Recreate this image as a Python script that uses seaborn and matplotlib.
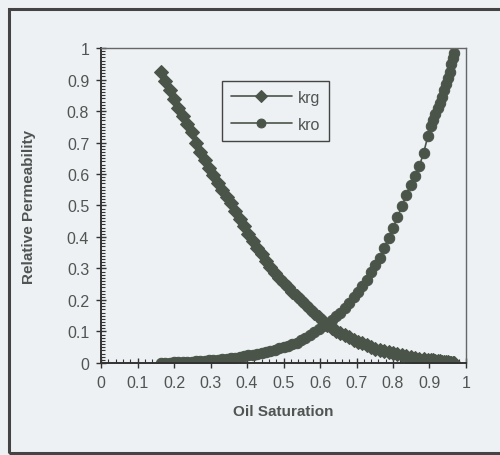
import numpy as np
import pandas as pd
import matplotlib
matplotlib.use("Agg")
import matplotlib.pyplot as plt
import seaborn as sns
from matplotlib.patches import Rectangle
from matplotlib.ticker import MultipleLocator, FuncFormatter

# oil saturation (shared by both curves)
so = [0.164, 0.176, 0.188, 0.200, 0.212, 0.224, 0.236, 0.248, 0.260, 0.272,
      0.284, 0.296, 0.308, 0.320, 0.332, 0.344, 0.356, 0.368, 0.380, 0.392,
      0.404, 0.416, 0.428, 0.440, 0.452, 0.464, 0.476, 0.488, 0.500, 0.512,
      0.524, 0.536, 0.548, 0.560, 0.572, 0.584, 0.596, 0.608, 0.620, 0.632,
      0.644, 0.656, 0.668, 0.680, 0.692, 0.704, 0.716, 0.728, 0.740, 0.752,
      0.764, 0.776, 0.788, 0.800, 0.812, 0.824, 0.836, 0.848, 0.860, 0.872,
      0.884, 0.896, 0.904, 0.910, 0.916, 0.922, 0.928, 0.934, 0.940, 0.945,
      0.950, 0.955, 0.960, 0.964, 0.968]

krg = [0.923, 0.895, 0.866, 0.838, 0.811, 0.784, 0.758, 0.733, 0.700, 0.670,
       0.645, 0.620, 0.597, 0.573, 0.550, 0.528, 0.508, 0.483, 0.458, 0.435,
       0.410, 0.387, 0.366, 0.345, 0.324, 0.305, 0.287, 0.270, 0.254, 0.240,
       0.226, 0.213, 0.200, 0.186, 0.172, 0.158, 0.145, 0.132, 0.120, 0.110,
       0.102, 0.096, 0.089, 0.081, 0.074, 0.068, 0.062, 0.056, 0.050, 0.045,
       0.041, 0.037, 0.034, 0.031, 0.028, 0.025, 0.022, 0.019, 0.017, 0.014,
       0.012, 0.010, 0.009, 0.008, 0.007, 0.006, 0.005, 0.004, 0.003, 0.002,
       0.002, 0.001, 0.001, 0.000, 0.000]

kro = [0.001, 0.001, 0.001, 0.002, 0.002, 0.003, 0.003, 0.004, 0.005, 0.006,
       0.007, 0.008, 0.009, 0.011, 0.012, 0.014, 0.015, 0.017, 0.019, 0.021,
       0.024, 0.026, 0.029, 0.032, 0.035, 0.038, 0.042, 0.046, 0.050, 0.054,
       0.059, 0.065, 0.072, 0.080, 0.089, 0.098, 0.108, 0.118, 0.128, 0.137,
       0.148, 0.160, 0.175, 0.191, 0.208, 0.226, 0.245, 0.265, 0.288, 0.310,
       0.333, 0.365, 0.397, 0.430, 0.462, 0.497, 0.533, 0.566, 0.595, 0.624,
       0.668, 0.722, 0.752, 0.770, 0.790, 0.808, 0.826, 0.845, 0.866, 0.885,
       0.905, 0.925, 0.950, 0.968, 0.985]

curve_names = ["krg", "kro"]

df = pd.concat([
    pd.DataFrame({"So": so, "kr": krg, "curve": curve_names[0]}),
    pd.DataFrame({"So": so, "kr": kro, "curve": curve_names[1]}),
], ignore_index=True)

bg = "#edf1f3"
ink = "#4a5449"
txt = "#505553"

sns.set_style("ticks")
plt.rcParams["font.family"] = ["Liberation Sans", "DejaVu Sans"]

fig = plt.figure(figsize=(5, 4.56), dpi=100, facecolor=bg)
ax = fig.add_axes([0.202, 0.2018, 0.73, 0.6907])
ax.set_facecolor(bg)

sns.lineplot(data=df, x="So", y="kr", hue="curve", style="curve",
             markers={"krg": "D", "kro": "o"}, dashes=False,
             palette=[ink, ink], sort=False, ax=ax,
             markersize=7.5, markeredgecolor=ink, linewidth=1.2)

ax.set_xlim(0, 1)
ax.set_ylim(0, 1)
ax.xaxis.set_major_locator(MultipleLocator(0.1))
ax.yaxis.set_major_locator(MultipleLocator(0.1))
ax.xaxis.set_minor_locator(MultipleLocator(0.02))
ax.yaxis.set_minor_locator(MultipleLocator(0.01))
fmt = FuncFormatter(lambda v, p: f"{v:g}")
ax.xaxis.set_major_formatter(fmt)
ax.yaxis.set_major_formatter(fmt)

ax.tick_params(which="major", direction="inout", length=7, width=1,
               color="#333333", labelsize=11.5, labelcolor=txt, pad=5)
ax.tick_params(which="minor", direction="in", length=3, width=0.8,
               color="#333333")

for s in ["left", "bottom"]:
    ax.spines[s].set_color("#333333")
    ax.spines[s].set_linewidth(1.4)
for s in ["top", "right"]:
    ax.spines[s].set_visible(True)
    ax.spines[s].set_color("#666666")
    ax.spines[s].set_linewidth(1.0)

ax.set_xlabel("Oil Saturation", fontsize=11, fontweight="bold",
              color=txt, labelpad=10)
ax.set_ylabel("Relative Permeability", fontsize=11, fontweight="bold",
              color=txt, labelpad=22)

leg = ax.legend(loc="upper left", bbox_to_anchor=(0.31, 0.92),
                frameon=True, fancybox=False, framealpha=1,
                fontsize=11.5, handlelength=3.8, borderpad=0.55,
                labelspacing=0.75, handletextpad=0.4, markerscale=0.85)
leg.get_frame().set_edgecolor("#444444")
leg.get_frame().set_facecolor(bg)
leg.get_frame().set_linewidth(1.0)
for t in leg.get_texts():
    t.set_color(txt)

border = Rectangle((0.017, 0.005), 1.0, 0.972, transform=fig.transFigure,
                   fill=False, edgecolor="#444444", linewidth=2.2)
fig.add_artist(border)

fig.savefig("out.png", dpi=100, facecolor=bg)
